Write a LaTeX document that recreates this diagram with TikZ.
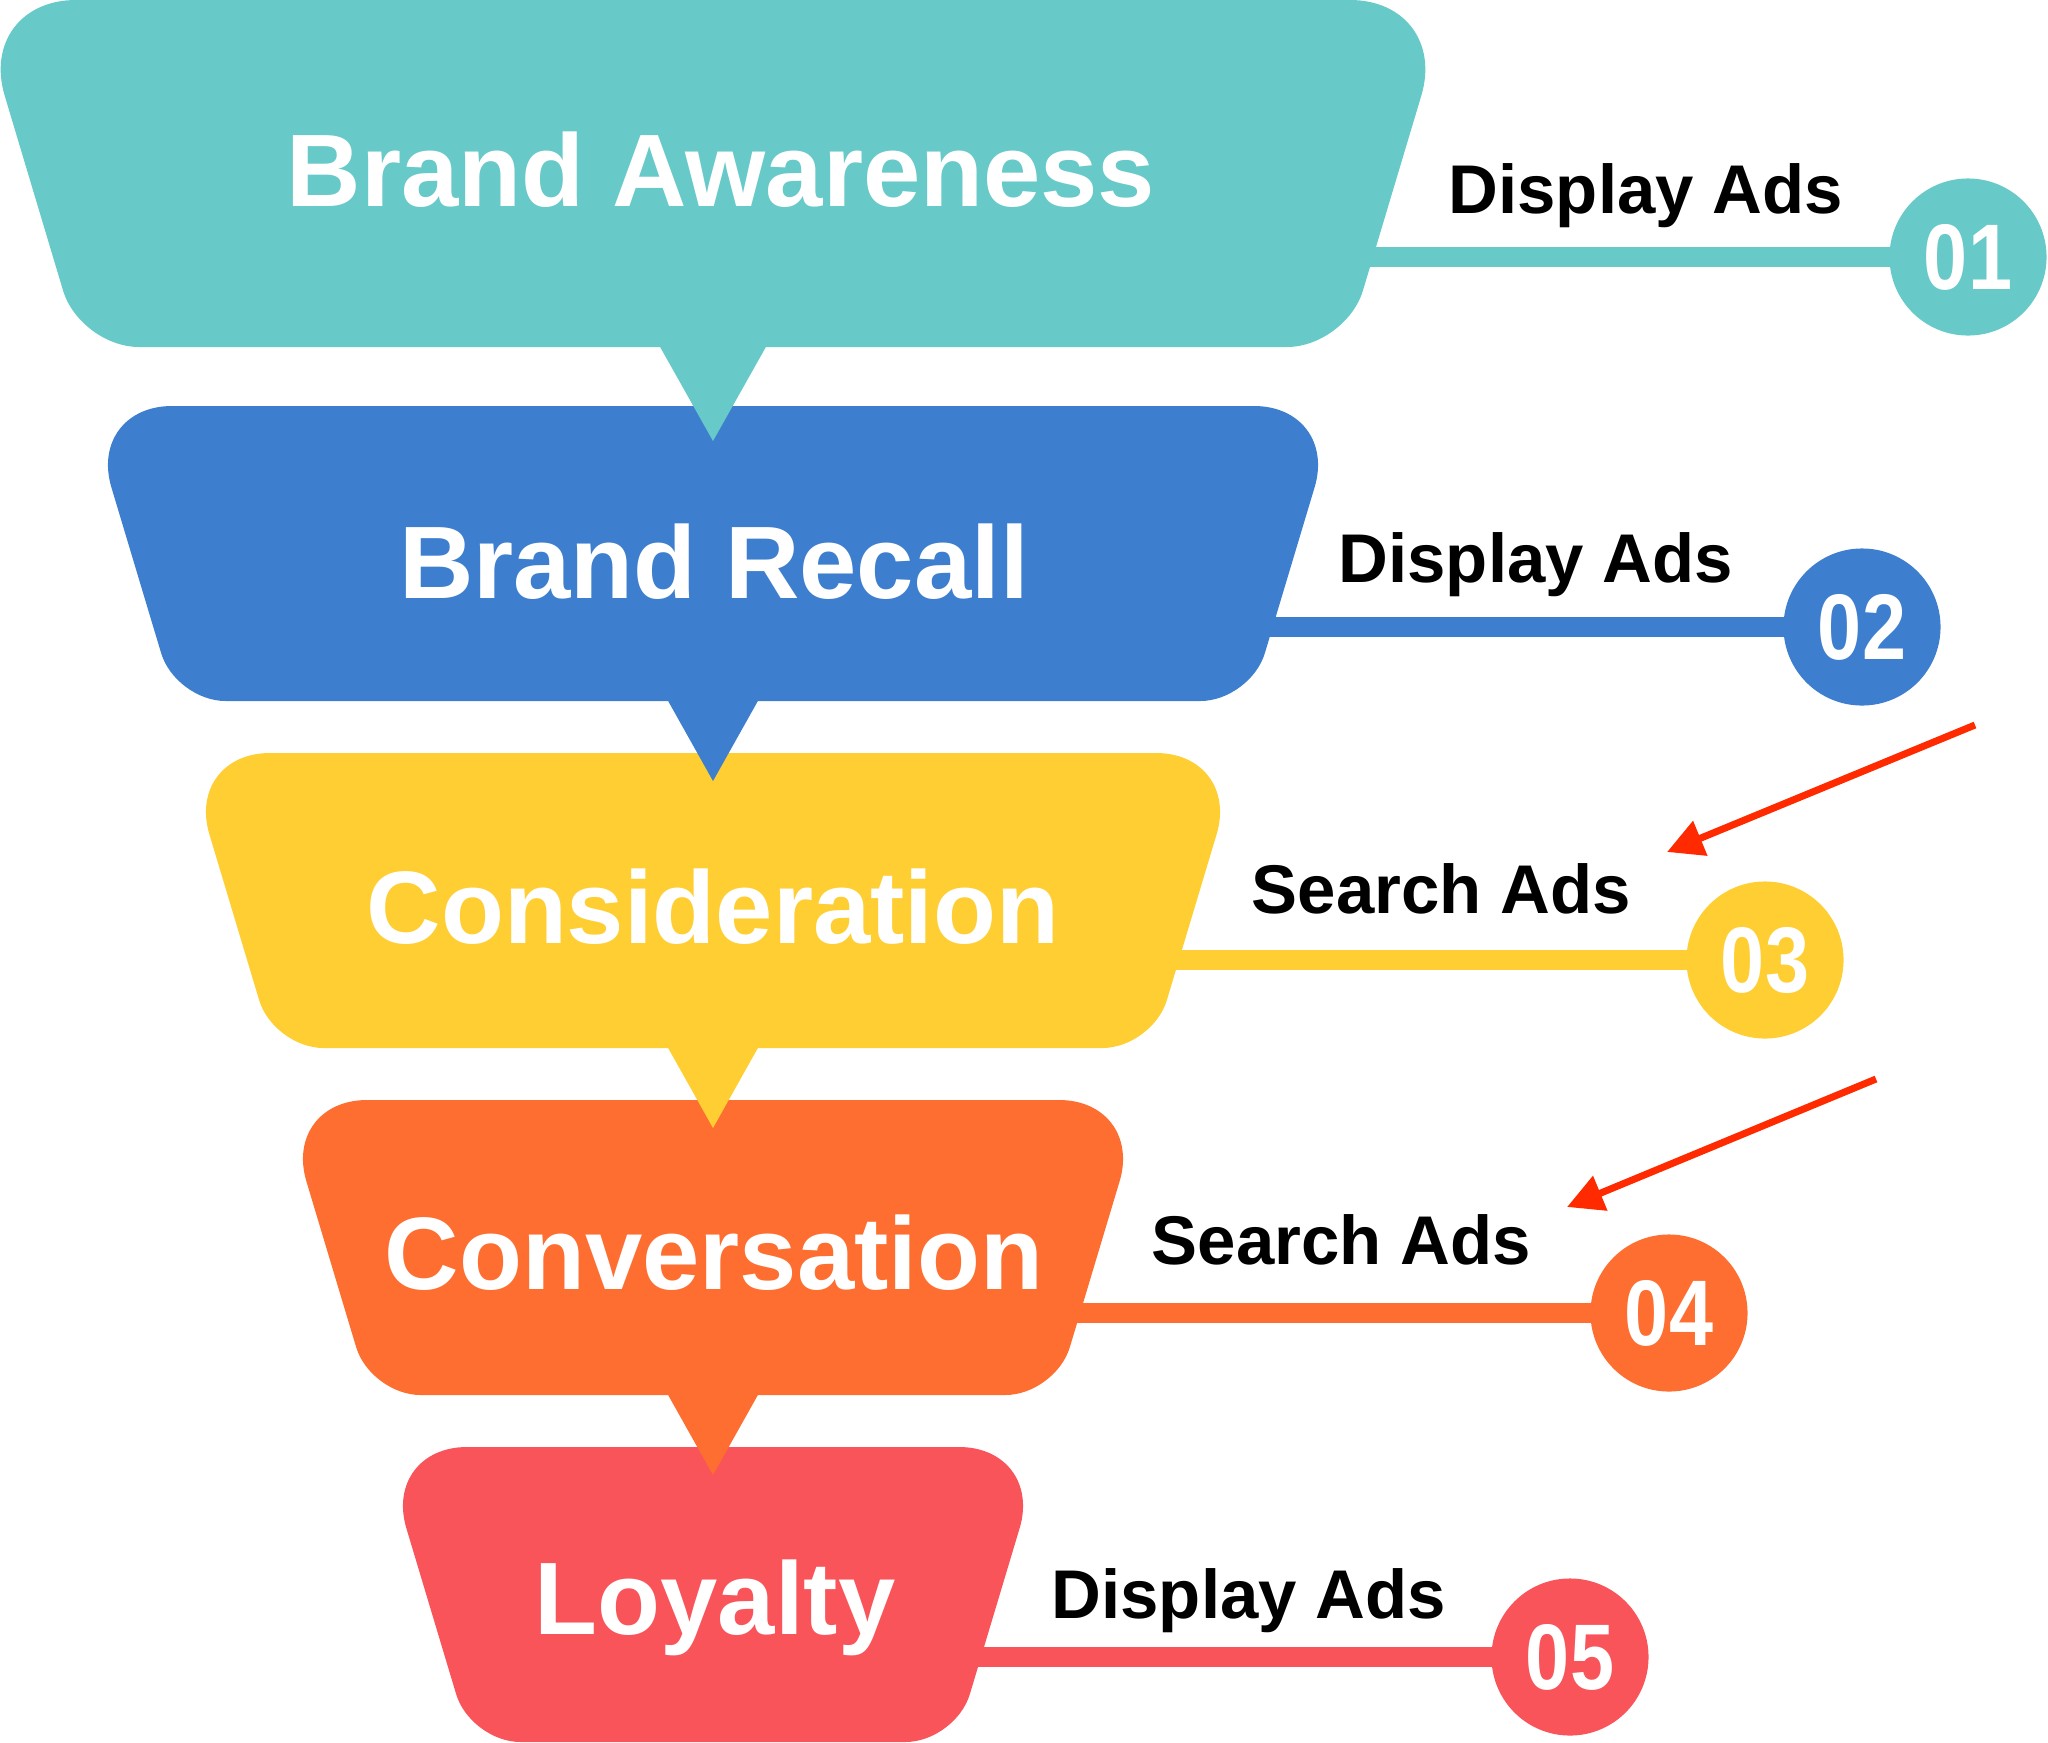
\documentclass[tikz,border=0pt]{standalone}
\usepackage{fontspec}
\setmainfont{Liberation Sans}
\usetikzlibrary{arrows.meta}
\definecolor{cteal}{HTML}{68C9C9}
\definecolor{cblue}{HTML}{3D7FCE}
\definecolor{cyellow}{HTML}{FECE33}
\definecolor{corange}{HTML}{FE6E30}
\definecolor{cred}{HTML}{F8545A}
\definecolor{arrowred}{HTML}{FF2A00}
\pgfdeclarelayer{bg}
\pgfsetlayers{bg,main}
% #1 top, #2 height, #3 top half width, #4 bottom half width, #5 top radius, #6 bottom radius, #7 colour
\newcommand\funnelshape[7]{%
 \pgfmathsetmacro\fsya{#1}%
 \pgfmathsetmacro\fsyb{#1+#2}%
 \pgfmathsetmacro\fsxtr{713+#3}%
 \pgfmathsetmacro\fsxtl{713-#3}%
 \pgfmathsetmacro\fsxbr{713+#4}%
 \pgfmathsetmacro\fsxbl{713-#4}%
 \pgfmathsetmacro\fsRc{#5*0.2873}\pgfmathsetmacro\fsRs{#5*0.9578}%
 \pgfmathsetmacro\fskR{#5*0.448}\pgfmathsetmacro\fskRc{#5*0.448*0.2873}\pgfmathsetmacro\fskRs{#5*0.448*0.9578}%
 \pgfmathsetmacro\fsrc{#6*0.2873}\pgfmathsetmacro\fsrs{#6*0.9578}%
 \pgfmathsetmacro\fskr{#6*0.448}\pgfmathsetmacro\fskrc{#6*0.448*0.2873}\pgfmathsetmacro\fskrs{#6*0.448*0.9578}%
 \fill[#7]
  (\fsxtl+#5,\fsya) -- (\fsxtr-#5,\fsya)
  .. controls (\fsxtr-\fskR,\fsya) and (\fsxtr-\fskRc,\fsya+\fskRs) .. (\fsxtr-\fsRc,\fsya+\fsRs)
  -- (\fsxbr+\fsrc,\fsyb-\fsrs)
  .. controls (\fsxbr+\fskrc,\fsyb-\fskrs) and (\fsxbr-\fskr,\fsyb) .. (\fsxbr-#6,\fsyb)
  -- (\fsxbl+#6,\fsyb)
  .. controls (\fsxbl+\fskr,\fsyb) and (\fsxbl-\fskrc,\fsyb-\fskrs) .. (\fsxbl-\fsrc,\fsyb-\fsrs)
  -- (\fsxtl+\fsRc,\fsya+\fsRs)
  .. controls (\fsxtl+\fskRc,\fsya+\fskRs) and (\fsxtl+\fskR,\fsya) .. (\fsxtl+#5,\fsya)
  -- cycle;
}
\tikzset{
  funnellabel/.style={font=\bfseries\fontsize{29.3}{35}\selectfont, text=white, inner sep=0pt, anchor=base},
  sidelabel/.style={font=\bfseries\fontsize{19.6}{24}\selectfont, text=black, inner sep=0pt, anchor=base west},
  numcircle/.style={circle, minimum size=1.57cm, inner sep=0pt, text=white, font=\bfseries\fontsize{26.5}{30}\selectfont},
  linkline/.style={line width=0.2cm},
  redarrow/.style={line width=0.07cm, draw=arrowred, -{Triangle[length=0.36cm,width=0.36cm]}}
}
\newcommand\numtext[1]{\scalebox{0.85}[1]{#1}}
\begin{document}
\begin{tikzpicture}[x=0.01cm, y=-0.01cm]
\useasboundingbox (0,0) rectangle (2048,1742);

% funnel bodies
\funnelshape{0}{347}{737}{633}{100}{59}{cteal}
\funnelshape{406}{295}{626}{537.5}{85}{50}{cblue}
\funnelshape{753}{295}{528}{439.5}{85}{50}{cyellow}
\funnelshape{1100}{295}{431}{342.5}{85}{50}{corange}
\funnelshape{1447}{295}{331}{242.5}{85}{50}{cred}

% pointers
\fill[cteal] (659,345) -- (767,345) -- (713,441) -- cycle;
\fill[cblue] (667,699) -- (759,699) -- (713,781) -- cycle;
\fill[cyellow] (667,1046) -- (759,1046) -- (713,1128) -- cycle;
\fill[corange] (667,1393) -- (759,1393) -- (713,1475) -- cycle;

% funnel labels
\node[funnellabel] (f1) at (721,206) {Brand Awareness};
\node[funnellabel] (f2) at (714,598) {Brand Recall};
\node[funnellabel] (f3) at (713,943) {Consideration};
\node[funnellabel] (f4) at (714,1289) {Conversation};
\node[funnellabel] (f5) at (715,1634) {Loyalty};

% number circles
\node[numcircle, fill=cteal] (c1) at (1968,257) {\numtext{01}};
\node[numcircle, fill=cblue] (c2) at (1862,627) {\numtext{02}};
\node[numcircle, fill=cyellow] (c3) at (1765,960) {\numtext{03}};
\node[numcircle, fill=corange] (c4) at (1669,1313) {\numtext{04}};
\node[numcircle, fill=cred] (c5) at (1570,1657) {\numtext{05}};

% side labels
\node[sidelabel] (l1) at (1448,213) {Display Ads};
\node[sidelabel] (l2) at (1338,582) {Display Ads};
\node[sidelabel] (l3) at (1251,913) {Search Ads};
\node[sidelabel] (l4) at (1151,1264) {Search Ads};
\node[sidelabel] (l5) at (1051,1618) {Display Ads};

% line starts (inside the funnel bodies)
\coordinate (s1) at (1340,257);
\coordinate (s2) at (1230,627);
\coordinate (s3) at (1130,960);
\coordinate (s4) at (1030,1313);
\coordinate (s5) at (930,1657);

\begin{pgfonlayer}{bg}
\draw[linkline, cteal] (s1) -- (c1.center);
\draw[linkline, cblue] (s2) -- (c2.center);
\draw[linkline, cyellow] (s3) -- (c3.center);
\draw[linkline, corange] (s4) -- (c4.center);
\draw[linkline, cred] (s5) -- (c5.center);
\end{pgfonlayer}

% red arrows
\coordinate (a1s) at (1975,725);
\coordinate (a1e) at (1667,852);
\coordinate (a2s) at (1876,1079);
\coordinate (a2e) at (1567,1207);
\draw[redarrow] (a1s) -- (a1e);
\draw[redarrow] (a2s) -- (a2e);
\end{tikzpicture}
\end{document}
